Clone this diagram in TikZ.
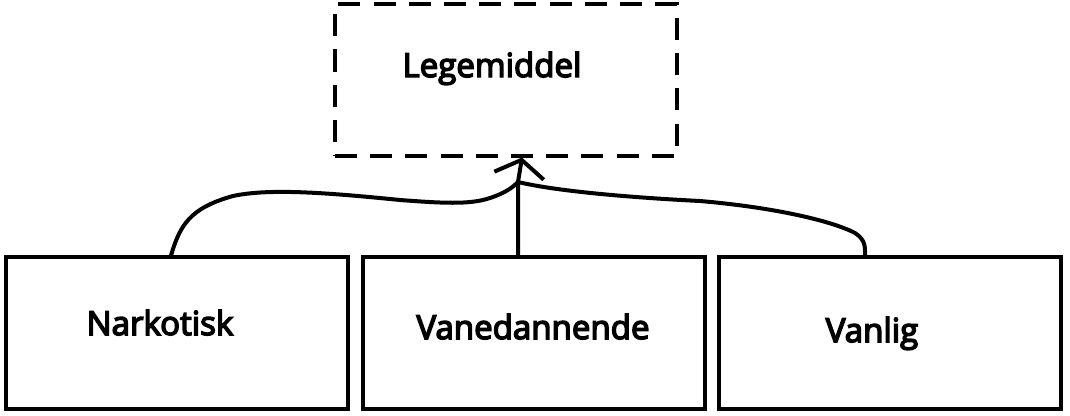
\documentclass[tikz,border=0pt]{standalone}
\usepackage{fontspec}
\setmainfont{Open Sans}
\newfontfamily\labelfont{Open Sans}[FakeBold=4.5]
\usetikzlibrary{arrows.meta}

\begin{document}
\begin{tikzpicture}[x=0.025cm, y=-0.025cm,
    >={Straight Barb[length=4mm,width=12.5mm]},
    stroke/.style={line width=0.1cm, line cap=round, line join=round},
    box/.style={draw, line width=0.1cm, minimum width=8.55cm, minimum height=3.775cm, inner sep=0pt},
    dashbox/.style={box, dash pattern=on 0.55cm off 0.33cm},
    boxtext/.style={font=\labelfont\fontsize{23.5}{28}\selectfont, anchor=base, inner sep=0pt}]
    \useasboundingbox (0,0) rectangle (1070,415);
    % boxes
    \node [dashbox] (lege) at (506,80)  {};
    \node [box]     (nark) at (177,333) {};
    \node [box]     (vane) at (534,333) {};
    \node [box]     (vanl) at (890,333) {};
    \node [boxtext] (legeText) at (492,77)  {Legemiddel};
    \node [boxtext] (narkText) at (160,335) {Narkotisk};
    \node [boxtext] (vaneText) at (533,339) {Vanedannende};
    \node [boxtext] (vanlText) at (872,342) {Vanlig};
    % where the three lines meet
    \coordinate (j)   at (518,182);
    \coordinate (tip) at (522,155);
    \draw [stroke, ->] (vane.north -| j) -- (j) -- (lege.south -| tip);
    \draw [stroke] ([xshift=-0.15cm]nark.north)
        .. controls (180,225) and (190,208) .. (233,196)
        .. controls (270,188) and (330,193) .. (400,200)
        .. controls (440,203) and (470,205) .. (490,198)
        .. controls (505,193) and (512,188) .. (j);
    \draw [stroke] (j)
        .. controls (560,192) and (640,198) .. (700,201)
        .. controls (770,207) and (830,220) .. (855,233)
        .. controls (866,240) and (865,248) .. ([xshift=-0.625cm]vanl.north);
\end{tikzpicture}
\end{document}
